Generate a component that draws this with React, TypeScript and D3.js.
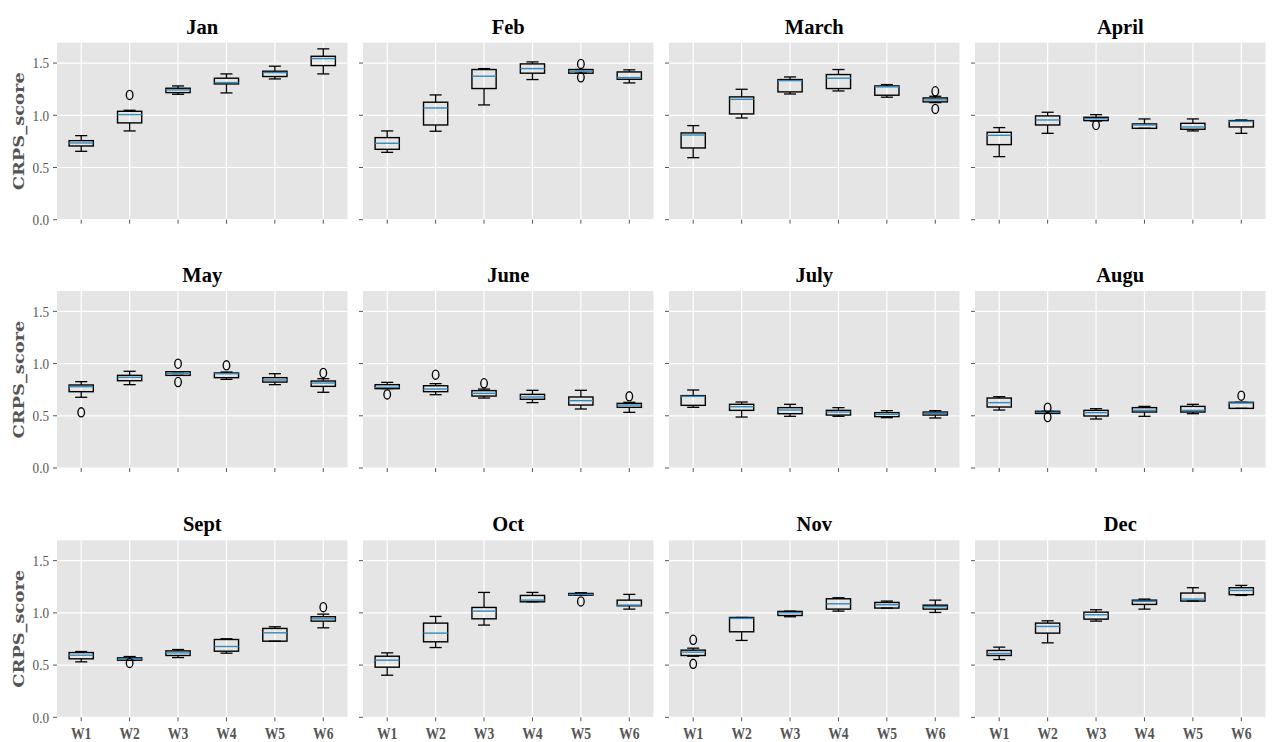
import React from "react";
import * as d3 from "d3";

const months = ["Jan", "Feb", "March", "April", "May", "June", "July", "Augu", "Sept", "Oct", "Nov", "Dec"];
const weeks = ["W1", "W2", "W3", "W4", "W5", "W6"];
const yTicks = [0, 0.5, 1.0, 1.5];

const whiskerLow = [
  [0.655, 0.85, 1.201, 1.214, 1.348, 1.396],
  [0.645, 0.847, 1.099, 1.342, 1.403, 1.31],
  [0.594, 0.974, 1.204, 1.233, 1.173, 1.121],
  [0.604, 0.827, 0.945, 0.875, 0.85, 0.827],
  [0.677, 0.798, 0.887, 0.849, 0.798, 0.725],
  [0.76, 0.702, 0.67, 0.626, 0.565, 0.533],
  [0.581, 0.488, 0.495, 0.495, 0.482, 0.479],
  [0.555, 0.523, 0.469, 0.495, 0.52, 0.571],
  [0.531, 0.547, 0.572, 0.614, 0.729, 0.857],
  [0.403, 0.668, 0.883, 1.106, 1.17, 1.036],
  [0.585, 0.736, 0.963, 1.017, 1.046, 1.004],
  [0.553, 0.713, 0.921, 1.036, 1.113, 1.167],
];
const q1 = [
  [0.706, 0.927, 1.217, 1.3, 1.371, 1.476],
  [0.674, 0.907, 1.256, 1.403, 1.403, 1.345],
  [0.687, 1.013, 1.224, 1.256, 1.192, 1.128],
  [0.719, 0.907, 0.949, 0.875, 0.866, 0.888],
  [0.731, 0.836, 0.887, 0.865, 0.823, 0.782],
  [0.76, 0.731, 0.689, 0.658, 0.603, 0.581],
  [0.6, 0.552, 0.52, 0.507, 0.492, 0.507],
  [0.584, 0.523, 0.498, 0.536, 0.536, 0.571],
  [0.56, 0.547, 0.592, 0.633, 0.729, 0.921],
  [0.48, 0.723, 0.943, 1.106, 1.17, 1.068],
  [0.592, 0.819, 0.975, 1.036, 1.046, 1.036],
  [0.592, 0.806, 0.94, 1.081, 1.113, 1.174],
];
const median = [
  [0.735, 1.006, 1.243, 1.313, 1.409, 1.543],
  [0.732, 1.07, 1.374, 1.447, 1.422, 1.361],
  [0.811, 1.153, 1.332, 1.355, 1.272, 1.147],
  [0.808, 0.955, 0.968, 0.907, 0.888, 0.942],
  [0.779, 0.868, 0.906, 0.903, 0.843, 0.814],
  [0.772, 0.756, 0.715, 0.68, 0.645, 0.603],
  [0.686, 0.587, 0.555, 0.536, 0.514, 0.523],
  [0.626, 0.533, 0.53, 0.552, 0.552, 0.622],
  [0.595, 0.556, 0.617, 0.678, 0.809, 0.943],
  [0.547, 0.806, 1.017, 1.122, 1.177, 1.074],
  [0.624, 0.947, 1.001, 1.087, 1.078, 1.059],
  [0.611, 0.87, 0.982, 1.11, 1.132, 1.215],
];
const q3 = [
  [0.757, 1.038, 1.259, 1.355, 1.422, 1.565],
  [0.786, 1.125, 1.438, 1.492, 1.438, 1.415],
  [0.831, 1.176, 1.342, 1.39, 1.281, 1.166],
  [0.837, 0.994, 0.981, 0.917, 0.923, 0.949],
  [0.795, 0.887, 0.922, 0.91, 0.865, 0.833],
  [0.798, 0.788, 0.741, 0.705, 0.68, 0.619],
  [0.693, 0.61, 0.578, 0.552, 0.53, 0.536],
  [0.67, 0.543, 0.552, 0.578, 0.59, 0.629],
  [0.62, 0.569, 0.636, 0.745, 0.851, 0.963],
  [0.585, 0.902, 1.052, 1.167, 1.186, 1.122],
  [0.643, 0.956, 1.014, 1.135, 1.1, 1.074],
  [0.64, 0.902, 1.007, 1.122, 1.19, 1.241],
];
const whiskerHigh = [
  [0.805, 1.048, 1.281, 1.396, 1.47, 1.636],
  [0.85, 1.195, 1.447, 1.511, 1.438, 1.435],
  [0.901, 1.249, 1.367, 1.438, 1.294, 1.182],
  [0.882, 1.029, 1.006, 0.965, 0.965, 0.955],
  [0.827, 0.926, 0.922, 0.919, 0.903, 0.855],
  [0.82, 0.808, 0.756, 0.744, 0.744, 0.629],
  [0.747, 0.632, 0.61, 0.578, 0.549, 0.549],
  [0.683, 0.543, 0.568, 0.59, 0.61, 0.629],
  [0.63, 0.582, 0.649, 0.752, 0.867, 0.988],
  [0.617, 0.966, 1.196, 1.196, 1.193, 1.177],
  [0.662, 0.956, 1.017, 1.145, 1.113, 1.122],
  [0.672, 0.924, 1.03, 1.132, 1.241, 1.263],
];
// [month index, week index, value]
const outliers: [number, number, number][] = [
  [0, 1, 1.195],
  [1, 4, 1.492], [1, 4, 1.364],
  [2, 5, 1.23], [2, 5, 1.061],
  [3, 2, 0.907],
  [4, 0, 0.533], [4, 2, 0.999], [4, 2, 0.823], [4, 3, 0.983], [4, 5, 0.91],
  [5, 0, 0.705], [5, 1, 0.894], [5, 2, 0.811], [5, 5, 0.686],
  [7, 1, 0.578], [7, 1, 0.488], [7, 5, 0.693],
  [8, 1, 0.521], [8, 5, 1.055],
  [9, 4, 1.11],
  [10, 0, 0.742], [10, 0, 0.512],
];

const W = 1273;
const H = 742;
const colLefts = [57, 363, 669, 975];
const rowTops = [42.7, 291, 540.3];
const PW = 290.5;
const PH = 177;
const FONT = "'Liberation Serif', 'Times New Roman', serif";
const FONT_Y = "'DejaVu Serif', 'Liberation Serif', serif";

function Panel({ m }: { m: number }) {
  const col = m % 4;
  const row = Math.floor(m / 4);
  const left = colLefts[col];
  const top = rowTops[row];
  const x = d3.scalePoint<string>().domain(weeks).range([0, PW]).padding(0.5);
  const y = d3.scaleLinear().domain([0, 1.695]).range([PH, 0]);
  const step = x.step();
  const bw = step * 0.5;
  const cw = step * 0.25;
  return (
    <g transform={`translate(${left},${top})`}>
      <rect x={0} y={0} width={PW} height={PH} fill="#E5E5E5" />
      {yTicks.map((t) => (
        <line key={"gy" + t} x1={0} x2={PW} y1={y(t)} y2={y(t)} stroke="#fff" strokeWidth={1.2} />
      ))}
      {weeks.map((w) => (
        <line key={"gx" + w} x1={x(w)} x2={x(w)} y1={0} y2={PH} stroke="#fff" strokeWidth={1.2} />
      ))}
      {yTicks.map((t) => (
        <line key={"ty" + t} x1={-4} x2={0} y1={y(t)} y2={y(t)} stroke="#555" strokeWidth={1} />
      ))}
      {weeks.map((w) => (
        <line key={"tx" + w} x1={x(w)} x2={x(w)} y1={PH} y2={PH + 4} stroke="#555" strokeWidth={1} />
      ))}
      {col === 0 &&
        yTicks.map((t) => (
          <text
            key={"ly" + t}
            transform={`translate(-8,${y(t)}) scale(0.85,1)`}
            dy="0.34em"
            textAnchor="end"
            fontFamily={FONT}
            fontSize={15.5}
            fill="#555"
          >
            {t.toFixed(1)}
          </text>
        ))}
      {row === 2 &&
        weeks.map((w) => (
          <text
            key={"lx" + w}
            transform={`translate(${x(w)},${PH + 22}) scale(0.78,1)`}
            textAnchor="middle"
            fontFamily={FONT}
            fontSize={17.5}
            fontWeight="bold"
            fill="#555"
          >
            {w}
          </text>
        ))}
      {col === 0 && (
        <text
          transform={`translate(${23.5 - left},${PH / 2}) rotate(-90)`}
          textAnchor="middle"
          fontFamily={FONT_Y}
          fontSize={15.5}
          fontWeight="bold"
          fill="#555"
          textLength={118}
          lengthAdjust="spacingAndGlyphs"
        >
          CRPS_score
        </text>
      )}
      <text x={PW / 2} y={-9} textAnchor="middle" fontFamily={FONT} fontSize={20.5} fontWeight="bold" fill="#000">
        {months[m]}
      </text>
      {weeks.map((w, i) => {
        const cx = x(w) as number;
        return (
          <g key={"b" + w}>
            <line x1={cx} x2={cx} y1={y(whiskerHigh[m][i])} y2={y(q3[m][i])} stroke="#000" strokeWidth={1.3} />
            <line x1={cx} x2={cx} y1={y(q1[m][i])} y2={y(whiskerLow[m][i])} stroke="#000" strokeWidth={1.3} />
            <line x1={cx - cw / 2} x2={cx + cw / 2} y1={y(whiskerHigh[m][i])} y2={y(whiskerHigh[m][i])} stroke="#000" strokeWidth={1.3} />
            <line x1={cx - cw / 2} x2={cx + cw / 2} y1={y(whiskerLow[m][i])} y2={y(whiskerLow[m][i])} stroke="#000" strokeWidth={1.3} />
            <rect
              x={cx - bw / 2}
              y={y(q3[m][i])}
              width={bw}
              height={Math.max(0.5, y(q1[m][i]) - y(q3[m][i]))}
              fill="none"
              stroke="#000"
              strokeWidth={1.4}
            />
            <line x1={cx - bw / 2} x2={cx + bw / 2} y1={y(median[m][i])} y2={y(median[m][i])} stroke="#348ABD" strokeWidth={1.4} />
          </g>
        );
      })}
      {outliers
        .filter((o) => o[0] === m)
        .map((o, k) => (
          <ellipse key={"o" + k} cx={x(weeks[o[1]]) as number} cy={y(o[2])} rx={3.3} ry={4.6} fill="none" stroke="#000" strokeWidth={1.3} />
        ))}
    </g>
  );
}

export default function App() {
  return (
    <svg width={W} height={H} style={{ position: "absolute", left: 0, top: 0, background: "#fff" }}>
      <rect x={0} y={0} width={W} height={H} fill="#fff" />
      {months.map((_, m) => (
        <Panel key={m} m={m} />
      ))}
    </svg>
  );
}
